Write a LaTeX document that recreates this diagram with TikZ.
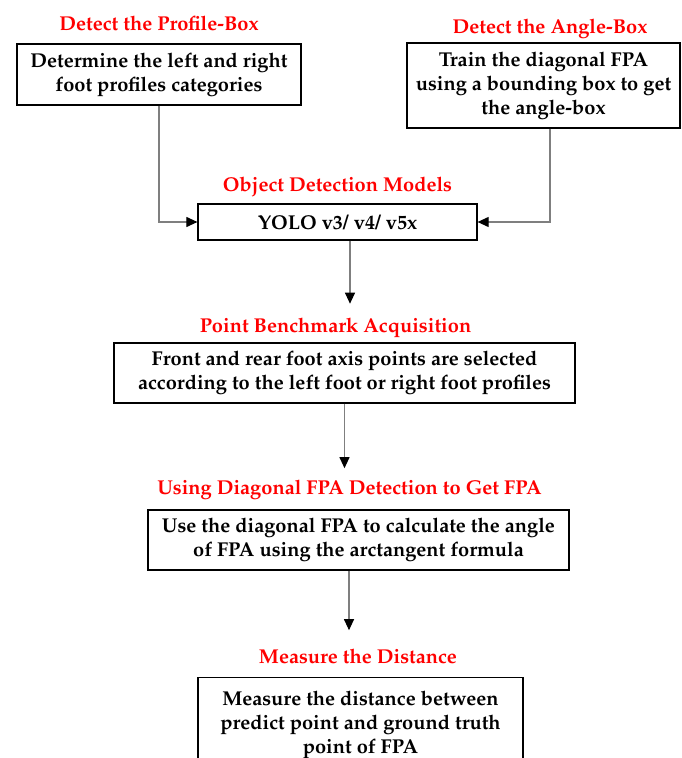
\documentclass[tikz,border=0pt]{standalone}
\usepackage[T1]{fontenc}
\usepackage{mathpazo}
\usepackage{tikz}
\usepackage{xcolor}
\usetikzlibrary{arrows.meta,positioning,calc}
\definecolor{titlered}{HTML}{FF0000}
\definecolor{linkgray}{HTML}{7F7F7F}

\begin{document}
\begin{tikzpicture}[
  every node/.style={font=\fontsize{11.4pt}{13.7pt}\selectfont\bfseries},
  stage/.style={rectangle, draw=black, line width=0.7pt, align=center, inner sep=2pt},
  heading/.style={text=titlered, inner sep=2pt, text depth=0pt},
  arrow/.style={-{Triangle[length=2.2mm, width=2mm, color=black]}, linkgray, line width=0.6pt},
]
\useasboundingbox (0,0) rectangle (13.62,-15.16);

% Boxes
\node[stage, minimum width=5.68cm, minimum height=1.22cm] (profile) at (3.18,-1.49)
  {Determine the left and right\\foot profiles categories};
\node[stage, minimum width=5.46cm, minimum height=1.70cm] (angle) at (10.87,-1.71)
  {Train the diagonal FPA\\using a bounding box to get\\the angle-box};
\node[stage, minimum width=5.58cm, minimum height=0.72cm] (yolo) at (6.75,-4.44)
  {YOLO v3/ v4/ v5x};
\node[stage, minimum width=9.22cm, minimum height=1.20cm] (bench) at (6.89,-7.46)
  {Front and rear foot axis points are selected\\according to the left foot or right foot profiles};
\node[stage, minimum width=8.42cm, minimum height=1.20cm] (diag) at (7.17,-10.80)
  {Use the diagonal FPA to calculate the angle\\of FPA using the arctangent formula};
\node[stage, minimum width=6.50cm, minimum height=1.90cm] (dist) at (7.21,-14.50)
  {Measure the distance between\\predict point and ground truth\\point of FPA};

% Headings
\node[heading, above=0.19cm of profile] (hprofile) {Detect the Profile-Box};
\node[heading, above=0.11cm of angle, xshift=0.13cm] (hangle) {Detect the Angle-Box};
\node[heading, above=0.17cm of yolo] (hyolo) {Object Detection Models};
\node[heading, above=0.13cm of bench, xshift=-0.18cm] (hbench) {Point Benchmark Acquisition};
\node[heading, above=0.23cm of diag, xshift=-0.18cm] (hdiag) {Using Diagonal FPA Detection to Get FPA};
\node[heading, above=0.19cm of dist, xshift=-0.05cm] (hdist) {Measure the Distance};

% Arrows
\draw[arrow] (profile.south) |- (yolo.west);
\draw[arrow] ([xshift=0.13cm]angle.south) |- (yolo.east);
\draw[arrow, shorten >=0.2cm] ([xshift=0.25cm]yolo.south) -- ([xshift=0.25cm]yolo.south |- hbench.north);
\draw[arrow, shorten >=0.15cm] (bench.south) -- (bench.south |- hdiag.north);
\draw[arrow, shorten >=0.3cm] ([xshift=-0.19cm]diag.south) -- ([xshift=-0.19cm]diag.south |- hdist.north);
\end{tikzpicture}
\end{document}
